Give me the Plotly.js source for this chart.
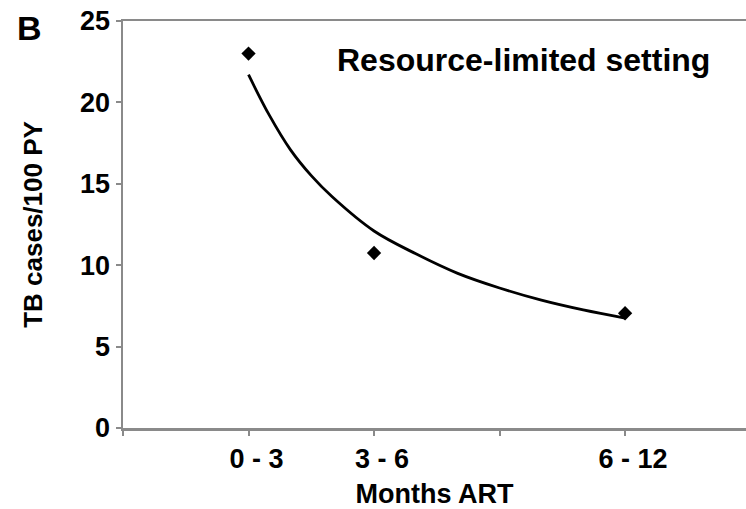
<!DOCTYPE html>
<html>
<head>
<meta charset="utf-8">
<script src="https://cdn.plot.ly/plotly-3.0.1.min.js"></script>
<style>html,body{margin:0;padding:0;background:#fff;}#chart{width:746px;height:509px;}</style>
</head>
<body>
<div id="chart"></div>
<script>
// Observed TB incidence per period of ART (x = end month of each period)
const periodX = [3, 6, 12];
const periodLabels = ['0 - 3', '3 - 6', '6 - 12'];
const tbIncidence = [23.0, 10.75, 7.05];

// Trend curve
const trendX = [3, 3.5, 4, 4.5, 5, 6, 7, 8, 9, 10, 11, 12];
const trendY = [21.7, 19.2, 17.1, 15.5, 14.2, 12.1, 10.7, 9.5, 8.6, 7.85, 7.25, 6.75];

// Axis ticks
const xTickVals = [0, 3, 6, 9, 12];
const xTickText = ['', periodLabels[0], periodLabels[1], '', periodLabels[2]];
const yTickVals = [0, 5, 10, 15, 20, 25];

const FONT = '"Liberation Sans", Arial, Helvetica, sans-serif';
const AXIS_GREY = '#8a8a8a';

const traces = [
  {
    x: trendX, y: trendY, type: 'scatter', mode: 'lines',
    line: {color: '#000', width: 2.8, shape: 'spline', smoothing: 1},
    hoverinfo: 'skip', showlegend: false
  },
  {
    x: periodX, y: tbIncidence, type: 'scatter', mode: 'markers',
    marker: {symbol: 'diamond', size: 11, color: '#000'},
    text: periodLabels, showlegend: false
  }
];

const layout = {
  width: 746, height: 509,
  margin: {l: 123, r: 0, t: 21, b: 81, pad: 0},
  paper_bgcolor: '#fff', plot_bgcolor: '#fff',
  showlegend: false,
  font: {family: FONT, color: '#000', size: 22, weight: 'bold'},
  xaxis: {
    range: [0, 14.89],
    tickvals: xTickVals, ticktext: xTickText,
    ticks: 'outside', ticklen: 5, tickwidth: 2, tickcolor: AXIS_GREY,
    showline: true, linecolor: AXIS_GREY, linewidth: 2.5, mirror: true,
    showgrid: false, zeroline: false,
    ticklabelshift: 8,
    tickfont: {family: FONT, size: 27, weight: 'bold', color: '#000'},
    title: {text: 'Months ART', font: {family: FONT, size: 27, weight: 'bold', color: '#000'}, standoff: 14}
  },
  yaxis: {
    range: [0, 25],
    tickvals: yTickVals,
    ticks: 'outside', ticklen: 5, tickwidth: 2, tickcolor: AXIS_GREY,
    showline: true, linecolor: AXIS_GREY, linewidth: 2.5,
    showgrid: false, zeroline: false,
    tickfont: {family: FONT, size: 27, weight: 'bold', color: '#000'},
    title: {text: 'TB cases/100 PY', font: {family: FONT, size: 26, weight: 'bold', color: '#000'}, standoff: 30}
  },
  annotations: [
    {
      text: 'Resource-limited setting', xref: 'paper', yref: 'paper',
      x: 0.6435, y: 0.904, xanchor: 'center', yanchor: 'middle', showarrow: false,
      font: {family: FONT, size: 32, weight: 'bold', color: '#000'}
    },
    {
      text: 'B', xref: 'paper', yref: 'paper',
      x: -0.1498, y: 0.984, xanchor: 'center', yanchor: 'middle', showarrow: false,
      font: {family: FONT, size: 34, weight: 'bold', color: '#000'}
    }
  ]
};

Plotly.newPlot('chart', traces, layout, {displayModeBar: false, staticPlot: true});
</script>
</body>
</html>
